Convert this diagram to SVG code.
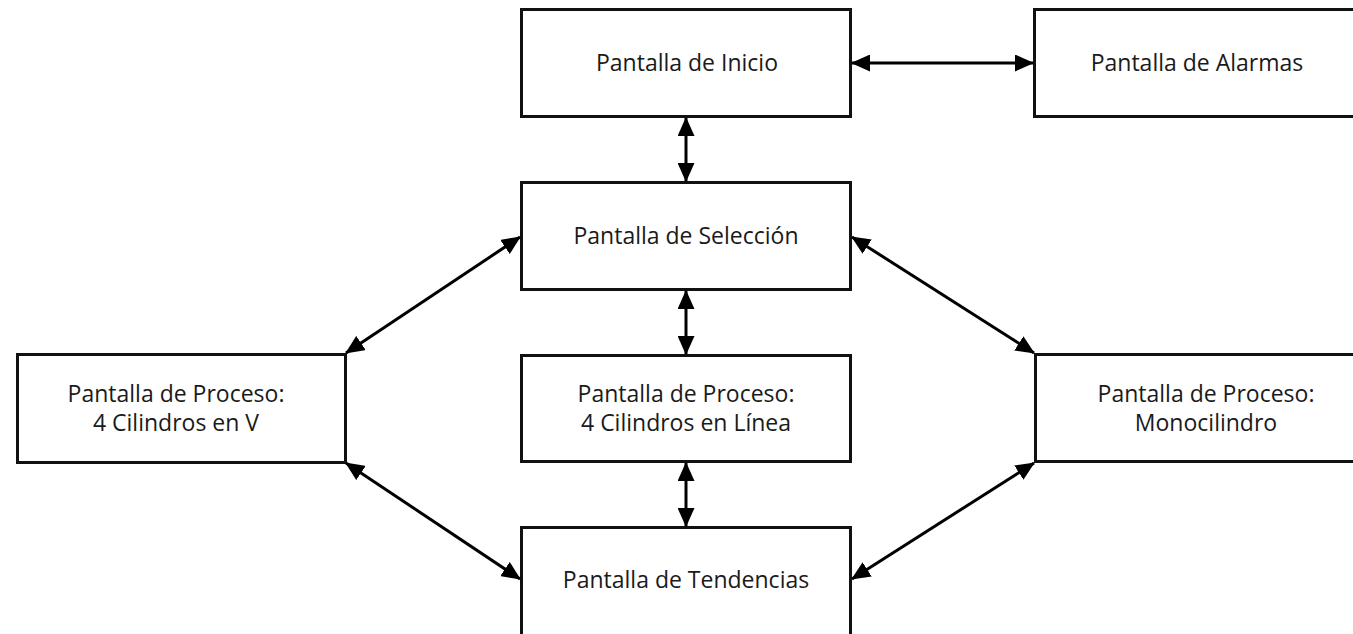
<svg xmlns="http://www.w3.org/2000/svg" width="1353" height="634" viewBox="0 0 1353 634">
  <style>
    .box { fill: #ffffff; stroke: #111111; stroke-width: 3; }
    .lbl { font-family: "Open Sans", "Noto Sans", sans-serif; font-size: 23px; fill: #1a1a1a; text-anchor: middle; }
    .link { stroke: #000000; stroke-width: 3; fill: none; marker-start: url(#head); marker-end: url(#head); }
  </style>
  <defs>
    <marker id="head" markerUnits="userSpaceOnUse" markerWidth="19" markerHeight="17" viewBox="0 0 19 17" refX="18" refY="8.5" orient="auto-start-reverse">
      <path d="M0,0 L19,8.5 L0,17 z" fill="#000000"/>
    </marker>
  </defs>

  <rect width="1353" height="634" fill="#ffffff"/>

  <g id="inicio">
    <rect class="box" x="521.5" y="9.5" width="329" height="107"/>
    <text class="lbl" x="687" y="71">Pantalla de Inicio</text>
  </g>

  <g id="alarmas">
    <rect class="box" x="1034.5" y="9.5" width="330" height="107"/>
    <text class="lbl" x="1197" y="71">Pantalla de Alarmas</text>
  </g>

  <g id="seleccion">
    <rect class="box" x="521.5" y="182.5" width="329" height="107"/>
    <text class="lbl" x="686" y="244">Pantalla de Selección</text>
  </g>

  <g id="proceso-v">
    <rect class="box" x="17.5" y="354.5" width="328" height="108"/>
    <text class="lbl" x="176" y="402">Pantalla de Proceso:</text>
    <text class="lbl" x="176" y="431">4 Cilindros en V</text>
  </g>

  <g id="proceso-linea">
    <rect class="box" x="521.5" y="355.5" width="329" height="106"/>
    <text class="lbl" x="686" y="402">Pantalla de Proceso:</text>
    <text class="lbl" x="686" y="431">4 Cilindros en Línea</text>
  </g>

  <g id="proceso-mono">
    <rect class="box" x="1035.5" y="354.5" width="330" height="107"/>
    <text class="lbl" x="1206" y="402">Pantalla de Proceso:</text>
    <text class="lbl" x="1206" y="431">Monocilindro</text>
  </g>

  <g id="tendencias">
    <rect class="box" x="521.5" y="527.5" width="329" height="115"/>
    <text class="lbl" x="686" y="588">Pantalla de Tendencias</text>
  </g>

  <g id="connectors">
    <line class="link" x1="852" y1="63" x2="1033" y2="63"/>
    <line class="link" x1="686" y1="118" x2="686" y2="181"/>
    <line class="link" x1="686" y1="291" x2="686" y2="354"/>
    <line class="link" x1="686" y1="463" x2="686" y2="526"/>
    <line class="link" x1="520" y1="237" x2="346" y2="353"/>
    <line class="link" x1="852" y1="237" x2="1034" y2="353"/>
    <line class="link" x1="346" y1="463" x2="520" y2="579"/>
    <line class="link" x1="1034" y1="463" x2="852" y2="579"/>
  </g>
</svg>
